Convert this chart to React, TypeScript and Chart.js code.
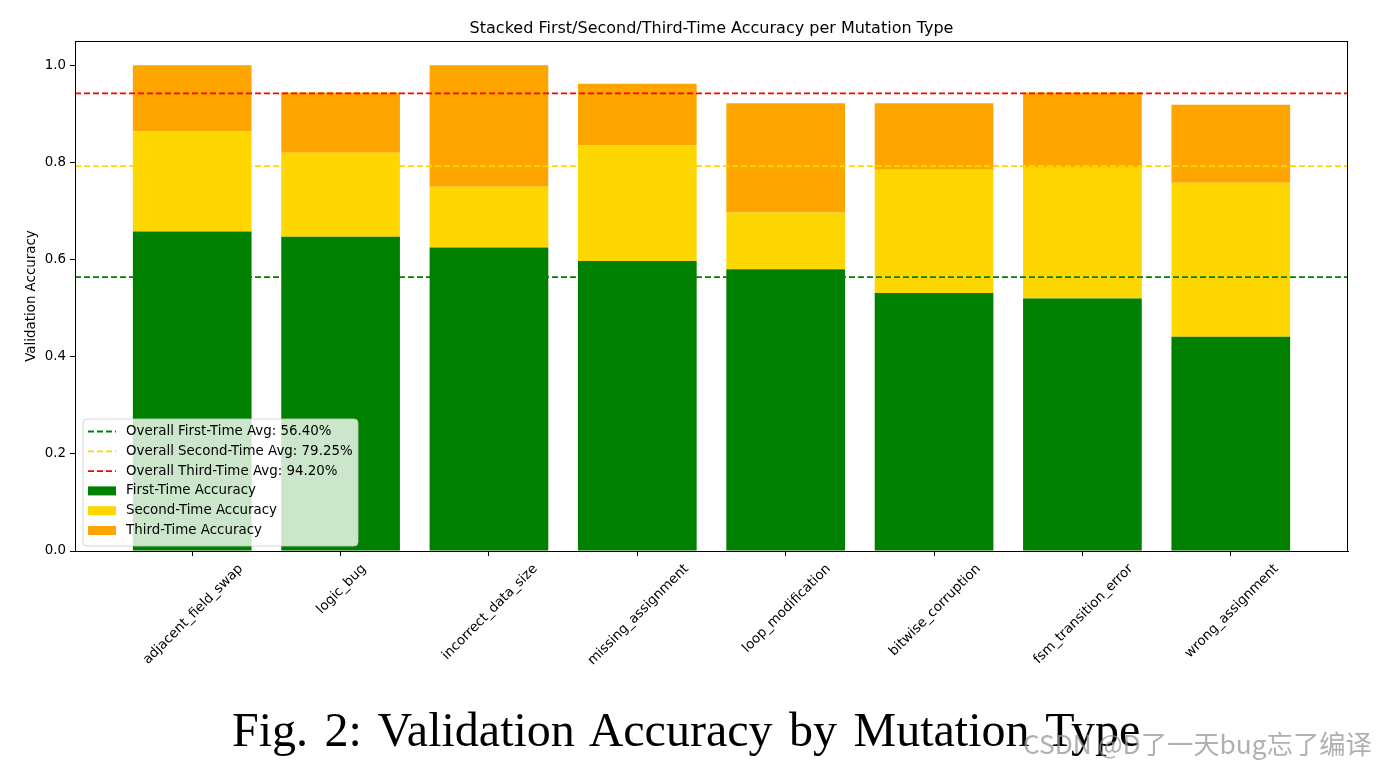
import React, { useEffect, useRef } from "react";
import { Chart, registerables } from "chart.js";

Chart.register(...registerables);

// ---------- data ----------
const categories = [
  "adjacent_field_swap",
  "logic_bug",
  "incorrect_data_size",
  "missing_assignment",
  "loop_modification",
  "bitwise_corruption",
  "fsm_transition_error",
  "wrong_assignment",
];
const firstTime = [0.658, 0.647, 0.625, 0.597, 0.58, 0.531, 0.52, 0.441];
const secondTime = [0.206, 0.173, 0.125, 0.238, 0.117, 0.254, 0.269, 0.317];
const thirdTime = [0.136, 0.124, 0.25, 0.127, 0.225, 0.137, 0.155, 0.161];
const avgFirst = 0.564;
const avgSecond = 0.7925;
const avgThird = 0.942;
const yTicks = [0, 0.2, 0.4, 0.6, 0.8, 1.0];
const seriesLabels = ["First-Time Accuracy", "Second-Time Accuracy", "Third-Time Accuracy"];
const avgLabels = [
  "Overall First-Time Avg: 56.40%",
  "Overall Second-Time Avg: 79.25%",
  "Overall Third-Time Avg: 94.20%",
];
const titleText = "Stacked First/Second/Third-Time Accuracy per Mutation Type";
const yAxisTitle = "Validation Accuracy";
const captionText = "Fig. 2: Validation Accuracy by Mutation Type";
const watermarkText = "CSDN @D了一天bug忘了编译";

// ---------- styles ----------
const barColors = ["#008000", "#FFD700", "#FFA500"];
const lineColors = ["#008000", "#FFD700", "#FF0000"];
const FONT = "DejaVu Sans";
const FS = 13.4;
const X_MIN = -0.79;
const X_MAX = 7.79;

const decorPlugin = {
  id: "decor",
  afterDraw(chart: any) {
    const { ctx, chartArea } = chart;
    const xs = chart.scales.x;
    const { left, right, top, bottom } = chartArea;
    ctx.save();

    // frame
    ctx.strokeStyle = "#000";
    ctx.lineWidth = 1;
    ctx.strokeRect(left + 0.5, top + 0.5, right - left - 1, bottom - top);

    // title
    ctx.fillStyle = "#000";
    ctx.font = `16px "${FONT}"`;
    ctx.textAlign = "center";
    ctx.textBaseline = "alphabetic";
    ctx.fillText(titleText, (left + right) / 2, 33);

    // y-axis title
    ctx.textBaseline = "middle";
    ctx.save();
    ctx.font = `${FS}px "${FONT}"`;
    ctx.translate(32, (top + bottom) / 2);
    ctx.rotate(-Math.PI / 2);
    ctx.fillText(yAxisTitle, 0, 0);
    ctx.restore();

    // rotated x labels, centered under ticks (matplotlib style)
    ctx.font = `${FS}px "${FONT}"`;
    const h = FS;
    categories.forEach((lab, i) => {
      const px = xs.getPixelForValue(i);
      const w = ctx.measureText(lab).width;
      const bb = (w + h) * Math.SQRT1_2;
      ctx.save();
      ctx.translate(px + 1, bottom + 11 + bb / 2);
      ctx.rotate(-Math.PI / 4);
      ctx.textAlign = "center";
      ctx.textBaseline = "middle";
      ctx.fillText(lab, 0, 0);
      ctx.restore();
    });

    // legend
    const lx = 83, ly = 419, lw = 275, lh = 127, r = 4;
    ctx.beginPath();
    ctx.moveTo(lx + r, ly);
    ctx.arcTo(lx + lw, ly, lx + lw, ly + lh, r);
    ctx.arcTo(lx + lw, ly + lh, lx, ly + lh, r);
    ctx.arcTo(lx, ly + lh, lx, ly, r);
    ctx.arcTo(lx, ly, lx + lw, ly, r);
    ctx.closePath();
    ctx.fillStyle = "rgba(255,255,255,0.8)";
    ctx.fill();
    ctx.strokeStyle = "rgba(204,204,204,0.8)";
    ctx.lineWidth = 1;
    ctx.stroke();

    const rowY = (k: number) => 431.5 + k * 19.8;
    ctx.textAlign = "left";
    ctx.textBaseline = "middle";
    ctx.font = `${FS}px "${FONT}"`;
    avgLabels.forEach((lab, k) => {
      const y = rowY(k);
      ctx.save();
      ctx.strokeStyle = lineColors[k];
      ctx.lineWidth = 1.8;
      ctx.setLineDash([6, 3]);
      ctx.beginPath();
      ctx.moveTo(88, y);
      ctx.lineTo(116, y);
      ctx.stroke();
      ctx.restore();
      ctx.fillStyle = "#000";
      ctx.fillText(lab, 126, y);
    });
    seriesLabels.forEach((lab, k) => {
      const y = rowY(k + 3);
      ctx.fillStyle = barColors[k];
      ctx.fillRect(88, y - 4.5, 28, 9);
      ctx.fillStyle = "#000";
      ctx.fillText(lab, 126, y);
    });

    ctx.restore();
  },
};

export default function App() {
  const ref = useRef<HTMLCanvasElement | null>(null);

  useEffect(() => {
    if (!ref.current) return;
    const barSets = [firstTime, secondTime, thirdTime].map((arr, k) => ({
      type: "bar" as const,
      label: seriesLabels[k],
      data: arr.map((v, i) => ({ x: i, y: v })),
      backgroundColor: barColors[k],
      borderWidth: 0,
      barPercentage: 0.8,
      categoryPercentage: 1.0,
      order: 1,
    }));
    const lineSets = [avgFirst, avgSecond, avgThird].map((v, k) => ({
      type: "line" as const,
      label: avgLabels[k],
      data: [
        { x: X_MIN, y: v },
        { x: X_MAX, y: v },
      ],
      borderColor: lineColors[k],
      borderWidth: 1.8,
      borderDash: [6, 3],
      pointRadius: 0,
      fill: false,
      stack: "avg" + k,
      order: 0,
    }));

    const chart = new Chart(ref.current, {
      data: { datasets: [...barSets, ...lineSets] as any },
      options: {
        responsive: false,
        animation: false,
        layout: { padding: { top: 41, right: 29, left: 0, bottom: 0 } },
        plugins: {
          legend: { display: false },
          title: { display: false },
          tooltip: { enabled: false },
        },
        scales: {
          x: {
            type: "linear",
            min: X_MIN,
            max: X_MAX,
            offset: false,
            stacked: true,
            afterBuildTicks: (s: any) => {
              s.ticks = categories.map((_, i) => ({ value: i }));
            },
            afterFit: (s: any) => {
              s.height = 219;
            },
            ticks: { display: false },
            grid: { offset: false, drawOnChartArea: false, drawTicks: true, tickLength: 5, color: "#000", lineWidth: 1 },
            border: { display: true, color: "#000", width: 1 },
          },
          y: {
            type: "linear",
            min: 0,
            max: 1.05,
            stacked: true,
            afterBuildTicks: (s: any) => {
              s.ticks = yTicks.map((v) => ({ value: v }));
            },
            afterFit: (s: any) => {
              s.width = 75;
            },
            ticks: {
              padding: 4,
              color: "#000",
              font: { family: FONT, size: FS },
              callback: (v: any) => Number(v).toFixed(1),
            },
            grid: { drawOnChartArea: false, drawTicks: true, tickLength: 5, color: "#000", lineWidth: 1 },
            border: { display: true, color: "#000", width: 1 },
          },
        },
      } as any,
      plugins: [decorPlugin],
    });
    return () => chart.destroy();
  }, []);

  return (
    <div
      style={{
        position: "fixed",
        left: 0,
        top: 0,
        width: 1377,
        height: 770,
        background: "#fff",
        overflow: "hidden",
      }}
    >
      <canvas ref={ref} width={1377} height={770} style={{ display: "block" }} />
      <div
        style={{
          position: "absolute",
          left: 232,
          top: 706,
          fontFamily: '"Liberation Serif", "Times New Roman", serif',
          fontSize: 48,
          lineHeight: "48px",
          wordSpacing: 4.5,
          whiteSpace: "nowrap",
          color: "#000",
        }}
      >
        {captionText}
      </div>
      <div
        style={{
          position: "absolute",
          left: 1023,
          top: 728,
          fontFamily: '"Noto Sans CJK SC", "Noto Sans", sans-serif',
          fontSize: 26.3,
          lineHeight: "30px",
          whiteSpace: "nowrap",
          color: "rgba(150,150,150,0.75)",
        }}
      >
        {watermarkText}
      </div>
    </div>
  );
}
